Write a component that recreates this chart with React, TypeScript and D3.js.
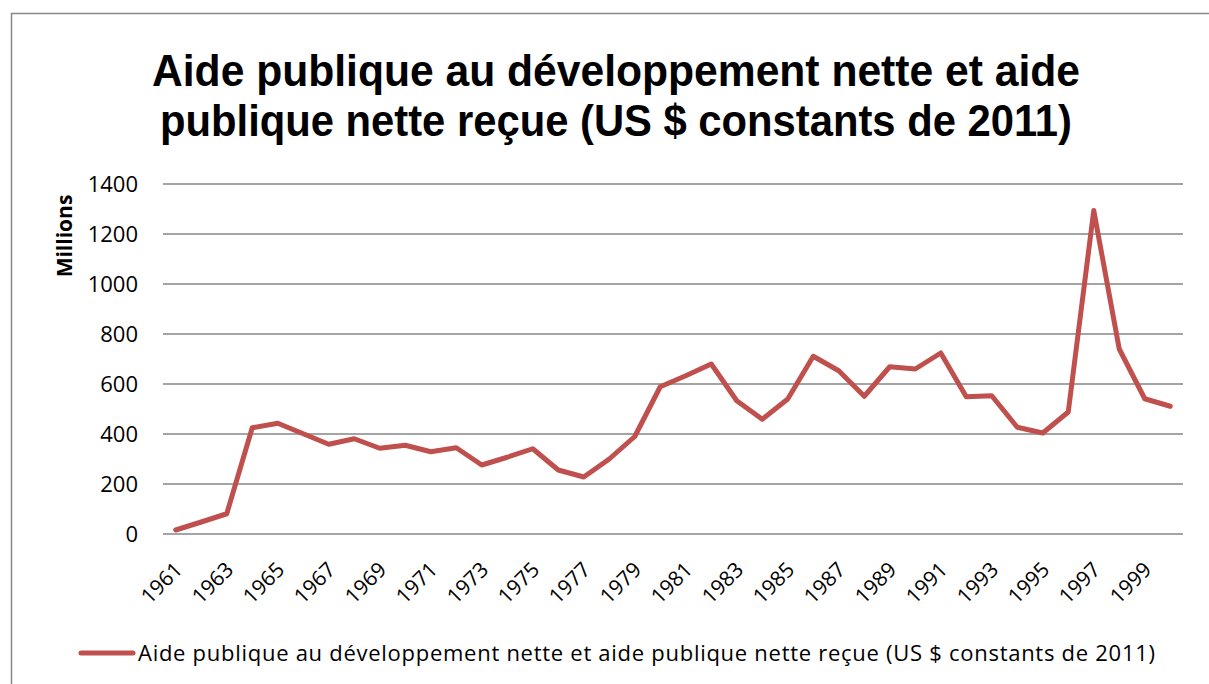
import * as d3 from "d3";

const years = [
  "1961", "1962", "1963", "1964", "1965", "1966", "1967", "1968", "1969", "1970",
  "1971", "1972", "1973", "1974", "1975", "1976", "1977", "1978", "1979", "1980",
  "1981", "1982", "1983", "1984", "1985", "1986", "1987", "1988", "1989", "1990",
  "1991", "1992", "1993", "1994", "1995", "1996", "1997", "1998", "1999", "2000",
];

// millions of constant 2011 US $
const aid = [
  16, 48, 81, 425, 443, 401, 359, 381, 343, 355,
  329, 345, 276, 307, 341, 256, 228, 300, 390, 589,
  633, 680, 533, 459, 540, 711, 653, 551, 669, 660,
  724, 549, 553, 427, 404, 488, 1294, 740, 541, 511,
];

const yTicks = [0, 200, 400, 600, 800, 1000, 1200, 1400];
const xLabels = years.filter((_, i) => i % 2 === 0);

const titleLines = [
  "Aide publique au développement nette et aide",
  "publique nette reçue (US $ constants de 2011)",
];
const seriesName =
  "Aide publique au développement nette et aide publique nette reçue (US $ constants de 2011)";

const W = 1209;
const H = 684;
const FONT = "'Open Sans', 'Liberation Sans', sans-serif";
const TITLE_FONT = "'Liberation Sans', Arial, sans-serif";
const RED = "#C0504D";
const GRID = "#868686";

export default function App() {
  const x = d3.scaleBand<string>().domain(years).range([163, 1183]).padding(0);
  const y = d3.scaleLinear().domain([0, 1400]).range([534, 184]);
  const cx = (yr: string) => (x(yr) ?? 0) + x.bandwidth() / 2;

  const line = d3
    .line<number>()
    .x((_, i) => cx(years[i]))
    .y((d) => y(d));

  return (
    <svg
      width={W}
      height={H}
      style={{ position: "absolute", left: 0, top: 0, background: "#fff" }}
      fontFamily={FONT}
    >
      <rect x={0} y={0} width={W} height={H} fill="#fff" />
      <rect x={11.5} y={13.5} width={W + 20} height={H + 20} fill="none" stroke="#878787" strokeWidth={1.5} />

      {titleLines.map((t, i) => (
        <text
          key={t}
          x={616}
          y={86 + i * 50}
          textAnchor="middle"
          fontFamily={TITLE_FONT}
          fontSize={44}
          fontWeight="bold"
          fill="#000"
          textLength={i === 0 ? 928 : 912}
          lengthAdjust="spacingAndGlyphs"
        >
          {t}
        </text>
      ))}

      {yTicks.map((t) => (
        <g key={t}>
          <line x1={163} x2={1183} y1={y(t)} y2={y(t)} stroke={GRID} strokeWidth={1.5} />
          <text x={138} y={y(t)} dy="0.36em" textAnchor="end" fontSize={22} fill="#000">
            {t}
          </text>
        </g>
      ))}

      <text
        transform="translate(72,236) rotate(-90)"
        textAnchor="middle"
        fontSize={21}
        fontWeight="bold"
        fill="#000"
      >
        Millions
      </text>

      {xLabels.map((yr) => (
        <text
          key={yr}
          transform={`translate(${cx(yr) + 8},571) rotate(-45)`}
          textAnchor="end"
          fontSize={21}
          fill="#000"
        >
          {yr}
        </text>
      ))}

      <path
        d={line(aid) ?? ""}
        fill="none"
        stroke={RED}
        strokeWidth={5}
        strokeLinejoin="round"
        strokeLinecap="round"
      />

      <line x1={81} x2={133} y1={653} y2={653} stroke={RED} strokeWidth={5} strokeLinecap="round" />
      <text x={138} y={661} fontSize={22} fill="#000" textLength={1017} lengthAdjust="spacing">
        {seriesName}
      </text>
    </svg>
  );
}
